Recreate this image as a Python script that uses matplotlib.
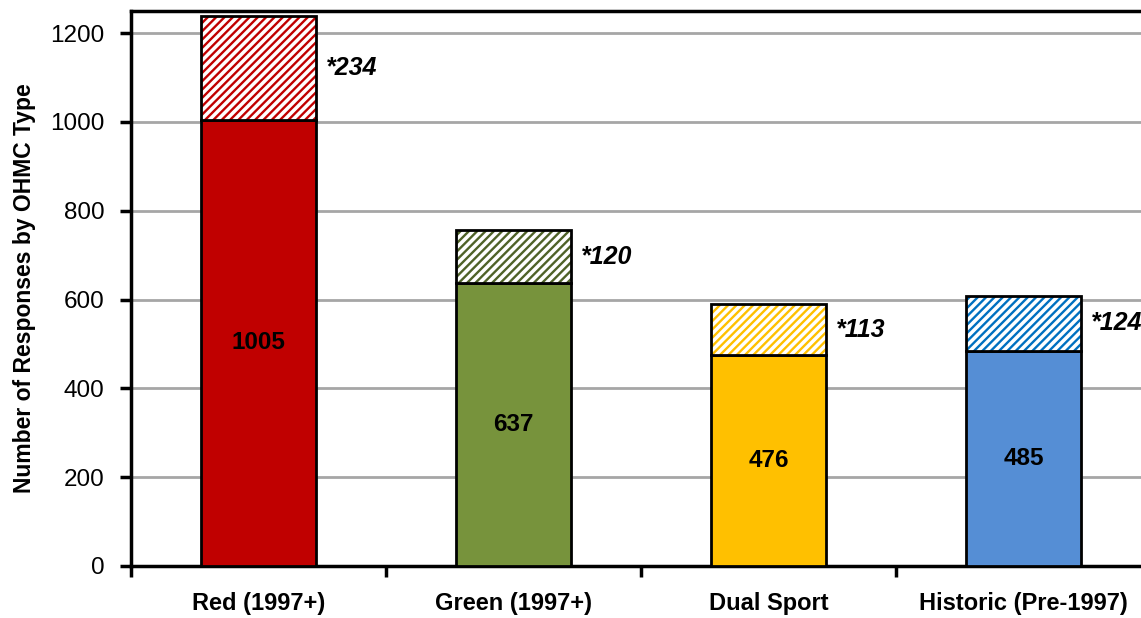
import numpy as np
import matplotlib.pyplot as plt

plt.rcParams['font.family'] = ['Liberation Sans', 'DejaVu Sans']
plt.rcParams['hatch.linewidth'] = 1.7

categories = ['Red (1997+)', 'Green (1997+)', 'Dual Sport', 'Historic (Pre-1997)']
base = [1005, 637, 476, 485]
extra = [234, 120, 113, 124]
fill_colors = ['#C00000', '#77933C', '#FFC000', '#558ED5']
hatch_colors = ['#C00000', '#4F6228', '#FFC000', '#0070C0']

fig = plt.figure(figsize=(11.41, 6.18), dpi=100)
ax = fig.add_axes([131/1141, 52/618, 1020/1141, 555/618])

x = np.arange(len(categories))
w = 0.45

ax.set_axisbelow(True)
ax.yaxis.grid(True, color='#A6A6A6', linewidth=2)

ax.bar(x, base, w, color=fill_colors, edgecolor='black', linewidth=2, zorder=3)
ax.bar(x, extra, w, bottom=base, color='white', edgecolor=hatch_colors,
       hatch='////', linewidth=0, zorder=3)
ax.bar(x, extra, w, bottom=base, fill=False, edgecolor='black', linewidth=2, zorder=4)

for i in range(len(categories)):
    ax.text(x[i], base[i] / 2, str(base[i]), ha='center', va='center',
            fontsize=17.5, fontweight='bold', zorder=5)
    ax.text(x[i] + w / 2 + 0.04, base[i] + extra[i] / 2, '*' + str(extra[i]),
            ha='left', va='center', fontsize=18, fontweight='bold',
            fontstyle='italic', zorder=5)

ax.set_xlim(-0.5, 3.5)
ax.set_ylim(0, 1250)
ax.set_yticks(np.arange(0, 1201, 200))
ax.set_xticks(x)
ax.set_xticklabels(categories, fontsize=17, fontweight='bold')
ax.set_xticks(np.arange(-0.5, 4, 1), minor=True)
ax.tick_params(axis='x', which='major', length=0, pad=19)
ax.tick_params(axis='x', which='minor', length=8, width=2.5, direction='out')
ax.tick_params(axis='y', length=8, width=2.5, labelsize=17.5, pad=11)

ax.spines['right'].set_visible(False)
for s in ['left', 'bottom', 'top']:
    ax.spines[s].set_linewidth(2.5)

ax.set_ylabel('Number of Responses by OHMC Type', fontsize=16.5, fontweight='bold', labelpad=10)

plt.savefig('out.png', dpi=100)
